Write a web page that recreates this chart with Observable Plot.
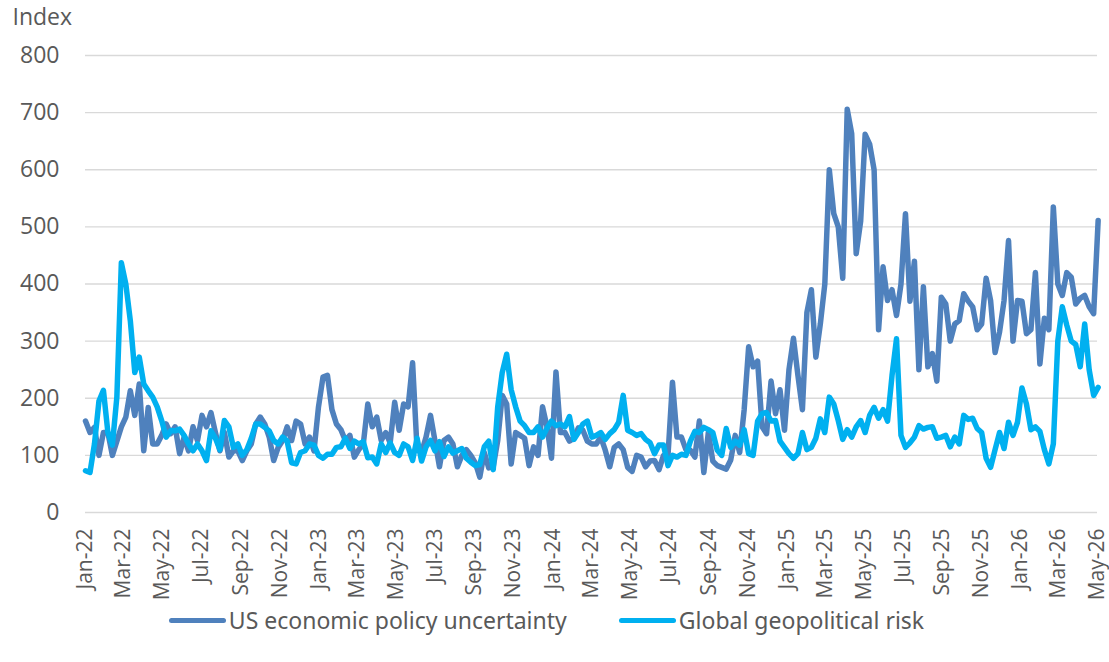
<!DOCTYPE html>
<html>
<head>
<meta charset="utf-8">
<script src="https://cdn.jsdelivr.net/npm/d3@7"></script>
<script src="https://cdn.jsdelivr.net/npm/@observablehq/plot@0.6"></script>
<style>
  html, body { margin: 0; padding: 0; background: #fff; }
  #chart { width: 1109px; }
  .legend {
    display: flex; justify-content: center; align-items: center;
    height: 40px; margin-top: 0; padding-right: 16px;
    font-family: "Noto Sans", sans-serif;
    font-size: 23px; color: #595959;
  }
  .legend .item { display: flex; align-items: center; }
  .legend .item + .item { margin-left: 52px; }
  .legend .swatch { width: 57px; height: 5px; border-radius: 3px; margin-right: 3px; }
</style>
</head>
<body>
<div id="chart"></div>
<script>
// Weekly readings, starting on the first day of 2022
const weekStart = new Date(Date.UTC(2022, 0, 1));
const axisEnd = new Date(Date.UTC(2026, 4, 1));

// US economic policy uncertainty index
const epuValues = [
  160,140,149,100,140,140,100,125,150,167,213,170,225,108,184,120,120,135,155,138,
  150,103,132,108,150,126,170,150,175,140,108,140,97,108,108,91,108,120,155,167,
  155,132,91,114,126,150,126,160,155,120,132,108,185,237,240,180,155,145,126,135,
  97,110,120,190,150,167,126,140,122,193,144,190,185,262,110,105,132,170,125,80,
  126,132,120,80,100,110,100,87,62,105,78,80,126,205,190,85,140,135,130,82,
  115,100,185,150,95,246,140,140,125,130,148,144,125,120,120,132,109,80,114,120,
  110,79,72,100,97,80,90,91,75,100,100,228,132,132,110,109,97,160,70,140,
  90,82,79,76,92,135,105,180,290,255,265,150,138,230,173,215,144,250,305,240,
  180,350,390,272,330,400,600,523,500,410,706,663,453,510,662,645,600,320,430,371,
  390,345,400,523,370,440,250,395,255,278,230,377,365,300,330,336,383,370,360,320,
  330,410,371,280,316,371,476,300,371,370,313,320,420,260,340,320,535,400,380,420,
  412,365,375,380,360,348,511
];

// Global geopolitical risk index
const gprValues = [
  73,70,120,195,214,140,118,202,437,400,336,245,272,225,213,202,185,161,132,143,
  143,146,135,120,108,120,108,91,143,130,110,161,150,114,120,100,110,130,155,155,
  149,143,126,120,132,125,87,85,105,108,120,118,100,95,102,102,114,115,130,112,
  125,120,124,96,97,85,120,105,122,105,100,120,115,91,130,90,115,126,108,124,
  98,115,104,108,112,95,88,82,84,115,125,75,185,245,277,215,185,160,152,140,
  140,150,132,148,160,152,155,150,168,128,140,155,160,132,135,140,128,138,145,158,
  205,144,140,135,138,128,122,103,118,118,82,100,97,102,100,125,142,140,149,145,
  140,109,100,147,114,125,118,145,103,100,160,173,175,160,161,125,114,103,95,103,
  140,110,114,130,164,140,202,190,161,128,145,132,150,161,140,170,184,165,180,160,
  240,304,135,114,122,132,152,146,149,150,130,132,135,115,132,120,170,163,165,147,
  140,95,79,110,140,112,158,135,158,218,190,145,150,142,110,85,120,300,360,328,
  300,294,255,330,250,205,219
];

const seriesNames = ["US economic policy uncertainty", "Global geopolitical risk"];
const seriesColors = ["#4f81bd", "#00b0f0"];
const yTicks = [0, 100, 200, 300, 400, 500, 600, 700, 800];
const xTicks = d3.utcMonth.every(2).range(weekStart, d3.utcDay.offset(axisEnd, 1));

const toRows = (values) => values.map((v, i) => ({date: d3.utcDay.offset(weekStart, 7 * i), value: v}));
const epu = toRows(epuValues);
const gpr = toRows(gprValues);

const chart = Plot.plot({
  width: 1109,
  height: 600,
  marginLeft: 85,
  marginRight: 12,
  marginTop: 55,
  marginBottom: 88,
  style: {fontFamily: "'Open Sans', sans-serif", color: "#595959", background: "#fff"},
  x: {type: "utc", domain: [weekStart, axisEnd]},
  y: {domain: [0, 800]},
  marks: [
    Plot.ruleY(yTicks, {stroke: "#d9d9d9", strokeWidth: 1.3}),
    Plot.axisY(yTicks, {tickSize: 0, tickPadding: 26, fontSize: 23, label: null}),
    Plot.axisX(xTicks, {tickSize: 0, tickPadding: 16, tickRotate: -90, fontSize: 21,
      tickFormat: d3.utcFormat("%b-%y"), label: null}),
    Plot.text(["Index"], {frameAnchor: "top-left", dx: -73, dy: -38, textAnchor: "start",
      lineAnchor: "middle", fontSize: 23, fill: "#595959"}),
    Plot.lineY(epu, {x: "date", y: "value", stroke: seriesColors[0], strokeWidth: 5.5,
      strokeLinejoin: "round", strokeLinecap: "round"}),
    Plot.lineY(gpr, {x: "date", y: "value", stroke: seriesColors[1], strokeWidth: 5.5,
      strokeLinejoin: "round", strokeLinecap: "round"})
  ]
});

const root = document.getElementById("chart");
root.appendChild(chart);

const legend = document.createElement("div");
legend.className = "legend";
seriesNames.forEach((name, i) => {
  const item = document.createElement("div");
  item.className = "item";
  const sw = document.createElement("span");
  sw.className = "swatch";
  sw.style.background = seriesColors[i];
  const label = document.createElement("span");
  label.textContent = name;
  item.appendChild(sw);
  item.appendChild(label);
  legend.appendChild(item);
});
root.appendChild(legend);
</script>
</body>
</html>
